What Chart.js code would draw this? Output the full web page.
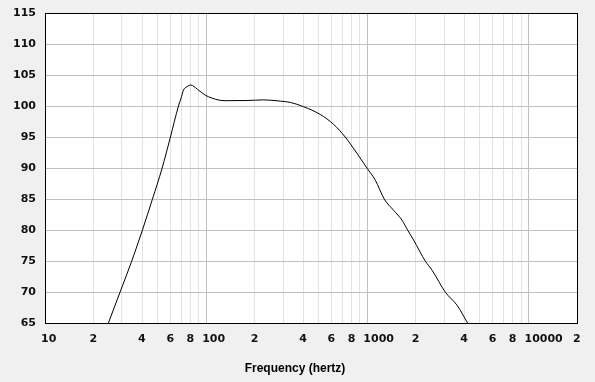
<!DOCTYPE html>
<html>
<head>
<meta charset="utf-8">
<script src="https://cdn.jsdelivr.net/npm/chart.js@4"></script>
<style>
html,body{margin:0;padding:0;background:#f0f0f0;}
#wrap{width:595px;height:382px;}
canvas{display:block;}
</style>
</head>
<body>
<div id="wrap"><canvas id="c" width="595" height="382"></canvas></div>
<script>
// Frequency (Hz) and SPL (dB)
const frequencies = [24.7, 29.2, 34.5, 40.2, 46.4, 53.3, 60.0, 67.3, 70.3, 72.3, 75.9, 80.3, 88, 98.6, 108.4, 120, 131, 179, 227, 288, 332.5, 402, 510, 618, 730, 863, 996, 1121, 1275, 1457, 1643, 1780, 1939, 2292, 2523, 3051, 3606, 4199];
const splValues   = [65, 70, 75, 80, 85, 90, 95, 100, 101.5, 102.58, 103.1, 103.39, 102.74, 101.77, 101.3, 100.97, 100.87, 100.9, 101.0, 100.8, 100.6, 99.9, 98.66, 97.05, 95, 92.37, 90, 88.06, 85, 83.2, 81.6, 80, 78.39, 75, 73.55, 70, 67.9, 65];

const xTickValues = [10,20,30,40,50,60,70,80,90,100,200,300,400,500,600,700,800,900,1000,2000,3000,4000,5000,6000,7000,8000,9000,10000,20000];
const xTickLabels = ['10','2','','4','','6','','8','','100','2','','4','','6','','8','','1000','2','','4','','6','','8','','10000','2'];
const decadeValues = [10,100,1000,10000];

const yMin = 65, yMax = 115, yStep = 5;
const xMin = 10, xMax = 20000;
const xTitle = 'Frequency (hertz)';

const labelMap = {};
xTickValues.forEach((v,i)=>{ labelMap[v] = xTickLabels[i]; });

const plotFrame = {
  id: 'plotFrame',
  beforeDraw(chart) {
    const a = chart.chartArea, ctx = chart.ctx;
    ctx.save();
    ctx.fillStyle = '#ffffff';
    ctx.fillRect(a.left, a.top, a.right - a.left, a.bottom - a.top);
    ctx.restore();
  },
  afterDraw(chart) {
    const a = chart.chartArea, ctx = chart.ctx;
    ctx.save();
    ctx.strokeStyle = '#000000';
    ctx.lineWidth = 1;
    ctx.strokeRect(Math.round(a.left) + 0.5, Math.round(a.top) + 0.5, Math.round(a.right - a.left), Math.round(a.bottom - a.top));
    ctx.restore();
  }
};

const tickFont = {family: 'DejaVu Sans', size: 11, weight: 'bold'};

new Chart(document.getElementById('c'), {
  type: 'line',
  data: {
    datasets: [{
      data: frequencies.map((f,i)=>({x:f, y:splValues[i]})),
      borderColor: '#000000',
      borderWidth: 1,
      pointRadius: 0,
      fill: false,
      cubicInterpolationMode: 'monotone'
    }]
  },
  options: {
    responsive: false,
    devicePixelRatio: 1,
    animation: false,
    layout: {padding: {left: 0, top: 13, right: 5, bottom: 0}},
    plugins: {
      legend: {display: false},
      tooltip: {enabled: false},
      title: {
        display: true,
        position: 'bottom',
        text: xTitle,
        color: '#000000',
        font: {family: 'Liberation Sans', size: 12, weight: 'bold'},
        padding: {top: 0, bottom: 6}
      }
    },
    scales: {
      x: {
        type: 'logarithmic',
        min: xMin, max: xMax,
        afterBuildTicks(scale) { scale.ticks = xTickValues.map(v=>({value:v})); },
        afterFit(scale) { scale.height = 38.3; },
        border: {display: false},
        grid: {
          drawTicks: false,
          color: (ctx)=> (ctx.tick && decadeValues.includes(ctx.tick.value)) ? '#c0c0c0' : '#e3e3e3',
          lineWidth: 1
        },
        ticks: {
          autoSkip: false, maxRotation: 0, minRotation: 0,
          align: 'start', labelOffset: -4, padding: 9,
          color: '#111111', font: tickFont,
          callback: (v)=> labelMap[v] !== undefined ? labelMap[v] : ''
        }
      },
      y: {
        min: yMin, max: yMax,
        afterFit(scale) { scale.width = 45; scale.paddingTop = 0; scale.paddingBottom = 0; },
        border: {display: false},
        grid: {drawTicks: false, color: '#c0c0c0', lineWidth: 1},
        ticks: {stepSize: yStep, padding: 9, color: '#111111', font: tickFont}
      },
      yRight: {
        position: 'right',
        min: yMin, max: yMax,
        afterFit(scale) { scale.width = 13; scale.paddingTop = 0; scale.paddingBottom = 0; },
        border: {display: false},
        grid: {display: false, drawOnChartArea: false},
        ticks: {display: false}
      }
    }
  },
  plugins: [plotFrame]
});
</script>
</body>
</html>
